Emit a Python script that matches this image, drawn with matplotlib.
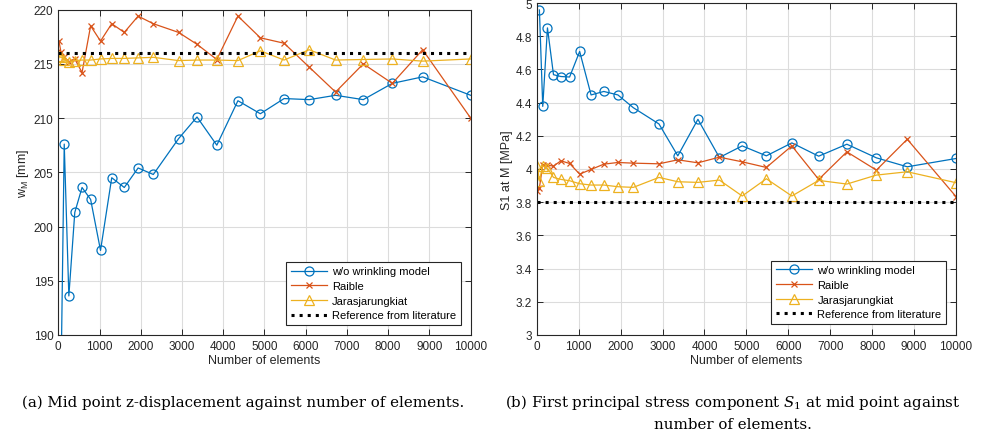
import matplotlib
matplotlib.use('Agg')
import matplotlib.pyplot as plt
from matplotlib.ticker import FuncFormatter

# mesh sizes (number of elements)
n_elem = [16, 64, 144, 256, 400, 576, 784, 1024, 1296, 1600, 1936, 2304, 2916,
          3364, 3844, 4356, 4900, 5476, 6084, 6724, 7396, 8100, 8836, 10000]
n_elem_blue = n_elem[1:]

# (a) mid point z-displacement [mm]
w_nowrinkle = [185.3, 207.6, 193.6, 201.3, 203.6, 202.5, 197.8, 204.5, 203.6, 205.4, 204.8,
               208.1, 210.1, 207.5, 211.6, 210.4, 211.8, 211.7, 212.1, 211.7, 213.2, 213.8, 212.1]
w_raible = [217.1, 216.1, 215.6, 215.2, 215.45, 214.2, 218.5, 217.1, 218.7, 217.9, 219.4, 218.7,
            217.9, 216.8, 215.4, 219.4, 217.4, 216.9, 214.7, 212.4, 215.0, 213.2, 216.3, 210.0]
w_jaras = [215.7, 215.6, 215.4, 215.15, 215.3, 215.35, 215.35, 215.45, 215.5, 215.5, 215.55, 215.6,
           215.3, 215.35, 215.35, 215.3, 216.2, 215.35, 216.3, 215.35, 215.4, 215.45, 215.25, 215.45]
w_ref = 216.0

# (b) first principal stress at mid point [MPa]
s_nowrinkle = [4.958, 4.377, 4.85, 4.568, 4.557, 4.554, 4.708, 4.446, 4.467, 4.446, 4.369,
               4.271, 4.079, 4.299, 4.069, 4.139, 4.079, 4.157, 4.077, 4.149, 4.067, 4.013, 4.063]
s_raible = [3.867, 3.887, 4.023, 4.023, 4.017, 4.049, 4.033, 3.969, 3.997, 4.029, 4.039, 4.035,
            4.031, 4.055, 4.037, 4.071, 4.043, 4.009, 4.139, 3.937, 4.103, 3.993, 4.179, 3.833]
s_jaras = [4.02, 3.927, 4.02, 4.005, 3.949, 3.937, 3.929, 3.911, 3.903, 3.903, 3.893, 3.889,
           3.949, 3.923, 3.919, 3.933, 3.837, 3.941, 3.837, 3.931, 3.909, 3.963, 3.983, 3.917]
s_ref = 3.8

labels = ['w/o wrinkling model', 'Raible', 'Jarasjarungkiat', 'Reference from literature']
c_blue, c_red, c_yel = '#0072BD', '#D95319', '#EDB120'
txt = '#262626'

plt.rcParams['font.family'] = ['Liberation Sans', 'DejaVu Sans']
plt.rcParams['font.size'] = 8.5
plt.rcParams['mathtext.fontset'] = 'dejavuserif'

fig = plt.figure(figsize=(9.83, 4.35), dpi=100)
ax1 = fig.add_axes([0.0593, 0.2276, 0.4195, 0.748])
ax2 = fig.add_axes([0.546, 0.2278, 0.4266, 0.763])


def draw(ax, yb, yr, yy, yref, ylim, yticks, ylabel, anchor):
    ax.plot(n_elem_blue, yb, '-o', color=c_blue, lw=0.9, ms=6.5, mfc='none', mew=0.9, label=labels[0])
    ax.plot(n_elem, yr, '-x', color=c_red, lw=0.9, ms=4.5, mew=0.9, label=labels[1])
    ax.plot(n_elem, yy, '-^', color=c_yel, lw=0.9, ms=7, mfc='none', mew=0.9, label=labels[2])
    ax.axhline(yref, color='black', ls=':', lw=2.2, label=labels[3])
    ax.set_xlim(0, 10000)
    ax.set_ylim(*ylim)
    ax.set_xticks(range(0, 10001, 1000))
    ax.set_yticks(yticks)
    ax.yaxis.set_major_formatter(FuncFormatter(lambda v, p: '%g' % round(v, 4)))
    ax.grid(True, color='#dcdcdc', lw=0.8)
    ax.set_axisbelow(True)
    ax.tick_params(direction='in', top=True, right=True, length=4, width=0.7,
                   colors=txt, labelcolor=txt, labelsize=8.5)
    for s in ax.spines.values():
        s.set_color(txt)
        s.set_linewidth(0.8)
    ax.set_xlabel('Number of elements', color=txt, fontsize=9, labelpad=1.5)
    ax.set_ylabel(ylabel, color=txt, fontsize=9, labelpad=2)
    leg = ax.legend(loc='lower right', fontsize=8, frameon=True, fancybox=False,
                    edgecolor=txt, framealpha=1, borderpad=0.4, labelspacing=0.42,
                    handlelength=3.3, handletextpad=0.45, borderaxespad=0,
                    bbox_to_anchor=anchor)
    leg.get_frame().set_linewidth(0.8)


draw(ax1, w_nowrinkle, w_raible, w_jaras, w_ref, (190, 220), range(190, 221, 5),
     'w$_{\\mathregular{M}}$ [mm]', (0.976, 0.031))
draw(ax2, s_nowrinkle, s_raible, s_jaras, s_ref, (3, 5), [3 + 0.2 * i for i in range(11)],
     'S1 at M [MPa]', (0.976, 0.034))

cap = dict(family=['DejaVu Serif'], fontsize=10.8, color='black', ha='center', va='center')
fig.text(243 / 983, 1 - 403 / 435, '(a) Mid point z-displacement against number of elements.', **cap)
fig.text(733 / 983, 1 - 403 / 435, '(b) First principal stress component $S_1$ at mid point against', **cap)
fig.text(733 / 983, 1 - 425 / 435, 'number of elements.', **cap)

fig.savefig('out.png', dpi=100)
